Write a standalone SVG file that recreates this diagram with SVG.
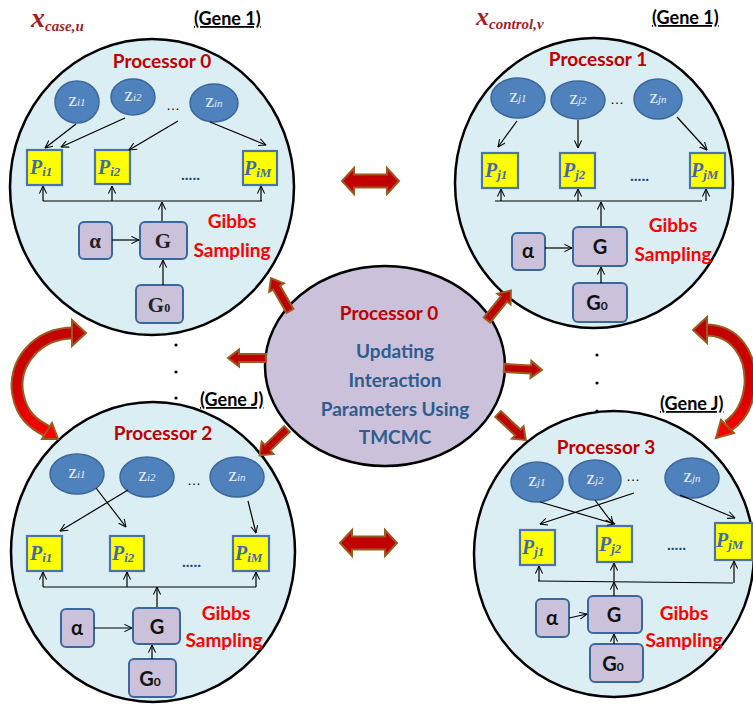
<svg xmlns="http://www.w3.org/2000/svg" width="753" height="708" viewBox="0 0 753 708">
<defs>
<style>
.panel{fill:#DAEEF3;stroke:#000;stroke-width:2.5}
.z{fill:#4F81BD;stroke:#3B679C;stroke-width:1.5}
.zt{font-family:"Liberation Serif",serif;font-size:19px;fill:#E6EEF7;text-anchor:middle}
.zs{font-size:11px;font-style:italic}
.pb{fill:#FFFF00;stroke:#4A74A8;stroke-width:2.2}
.pt{font-family:"Liberation Serif",serif;font-style:italic;font-weight:bold;font-size:20px;fill:#3E6BA8}
.ps{font-size:13px}
.pd{font-family:Lato,"Liberation Sans",sans-serif;font-weight:bold;font-size:16px;fill:#1F497D}
.gb{fill:#CCC1DA;stroke:#3B679C;stroke-width:2}
.gt{font-family:Lato,"Liberation Sans",sans-serif;font-weight:bold;font-size:20px;fill:#111;text-anchor:middle}
.gts{font-family:"Liberation Serif",serif;font-weight:bold;font-size:21px;fill:#222;text-anchor:middle}
.red{font-family:Lato,"Liberation Sans",sans-serif;font-weight:bold;font-size:19px;fill:#FF0000;text-anchor:middle}
.proc{font-family:Lato,"Liberation Sans",sans-serif;font-weight:bold;font-size:19px;fill:#C00000;text-anchor:middle}
.gene{font-family:Lato,"Liberation Sans",sans-serif;font-weight:bold;font-size:18px;fill:#000;text-decoration:underline}
.ctr{font-family:Lato,"Liberation Sans",sans-serif;font-weight:bold;font-size:19px;fill:#2E5C8E;text-anchor:middle}
.xl{font-family:"Liberation Serif",serif;font-style:italic;font-weight:bold;fill:#A31F1F}
.ln{stroke:#000;stroke-width:1.2;fill:none}
.la{stroke:#000;stroke-width:1.2;fill:none;marker-end:url(#v)}
.blk{fill:#C00000;stroke:#9C5B1E;stroke-width:2}
.dot{font-family:"Liberation Sans",sans-serif;font-size:14px;fill:#000}
</style>
<marker id="v" viewBox="0 0 10 10" refX="9.5" refY="5" markerWidth="8" markerHeight="8" orient="auto" markerUnits="userSpaceOnUse">
<path d="M0,0.5 L9.5,5 L0,9.5" fill="none" stroke="#000" stroke-width="1.3"/>
</marker>
<path id="ba" d="M0,-4 L27,-4 L27,-8.5 L38,0 L27,8.5 L27,4 L0,4 Z"/>
<linearGradient id="cg" gradientUnits="userSpaceOnUse" x1="0" y1="320" x2="0" y2="440">
<stop offset="0" stop-color="#C00000"/><stop offset="0.55" stop-color="#D00000"/><stop offset="1" stop-color="#FF0000"/>
</linearGradient>
</defs>
<rect width="753" height="708" fill="#fff"/>

<!-- Panels -->
<g id="panel-p0"><ellipse class="panel" cx="152" cy="187" rx="142" ry="148"/></g>
<g id="panel-p1"><ellipse class="panel" cx="594" cy="183" rx="139" ry="145"/></g>
<g id="panel-p2"><ellipse class="panel" cx="153" cy="552" rx="142" ry="150"/></g>
<g id="panel-p3"><ellipse class="panel" cx="614" cy="554" rx="140" ry="143"/></g>

<!-- Headers -->
<g id="labels">
<text class="xl" x="31" y="27" font-size="28">x<tspan font-size="15" dy="4">case,u</tspan></text>
<text class="xl" x="476" y="25" font-size="26">x<tspan font-size="15" dy="4">control,v</tspan></text>
<text class="gene" x="194" y="25" font-size="20">(Gene 1)</text>
<text class="gene" x="652" y="24" font-size="19">(Gene 1)</text>
<text class="gene" x="200" y="406">(Gene J)</text>
<text class="gene" x="660" y="410">(Gene J)</text>
<text class="proc" x="162" y="68">Processor 0</text>
<text class="proc" x="598" y="66">Processor 1</text>
<text class="proc" x="163" y="440">Processor 2</text>
<text class="proc" x="606" y="454">Processor 3</text>
<circle cx="176" cy="345" r="1.6"/>
<circle cx="176" cy="372" r="1.6"/>
<circle cx="176" cy="398" r="1.6"/>
<circle cx="597" cy="355" r="1.6"/>
<circle cx="597" cy="383" r="1.6"/>
<circle cx="597" cy="411" r="1.6"/>
</g>

<!-- Processor 0 nodes -->
<g id="p0-z1"><ellipse class="z" cx="77" cy="102" rx="22" ry="21"/><text class="zt" x="77" y="106">z<tspan class="zs">i1</tspan></text></g>
<g id="p0-z2"><ellipse class="z" cx="133" cy="97" rx="22" ry="18"/><text class="zt" x="133" y="101">z<tspan class="zs">i2</tspan></text></g>
<g id="p0-zd"><text class="dot" x="166" y="110" font-size="13">…</text></g>
<g id="p0-zn"><ellipse class="z" cx="214" cy="103" rx="24" ry="19"/><text class="zt" x="214" y="107">z<tspan class="zs">in</tspan></text></g>
<g id="p0-P1"><rect class="pb" x="27" y="150" width="35" height="35"/><text class="pt" x="30" y="174">P<tspan class="ps" dy="2">i1</tspan></text></g>
<g id="p0-P2"><rect class="pb" x="95" y="150" width="35" height="34"/><text class="pt" x="98" y="174">P<tspan class="ps" dy="2">i2</tspan></text></g>
<g id="p0-Pd"><text class="pd" x="181" y="180">.....</text></g>
<g id="p0-PM"><rect class="pb" x="243" y="151" width="34" height="34"/><text class="pt" x="244" y="175">P<tspan class="ps" dy="2">iM</tspan></text></g>
<g id="p0-a"><rect class="gb" x="79" y="222" width="33" height="37" rx="5"/><text class="gts" x="95" y="248">α</text></g>
<g id="p0-G"><rect class="gb" x="140" y="222" width="47" height="37" rx="5"/><text class="gts" x="163" y="248">G</text></g>
<g id="p0-G0"><rect class="gb" x="136" y="285" width="47" height="38" rx="5"/><text class="gts" x="159" y="312">G<tspan font-size="12">0</tspan></text></g>
<g id="p0-gibbs"><text class="red" x="232" y="228">Gibbs</text><text class="red" x="232" y="257">Sampling</text></g>

<!-- Processor 1 nodes -->
<g id="p1-z1"><ellipse class="z" cx="518" cy="98" rx="27" ry="20"/><text class="zt" x="518" y="102">z<tspan class="zs">j1</tspan></text></g>
<g id="p1-z2"><ellipse class="z" cx="578" cy="100" rx="27" ry="19"/><text class="zt" x="578" y="104">z<tspan class="zs">j2</tspan></text></g>
<g id="p1-zd"><text class="dot" x="610" y="104" font-size="13">…</text></g>
<g id="p1-zn"><ellipse class="z" cx="658" cy="99" rx="24" ry="20"/><text class="zt" x="658" y="103">z<tspan class="zs">jn</tspan></text></g>
<g id="p1-P1"><rect class="pb" x="482" y="153" width="36" height="35"/><text class="pt" x="485" y="177">P<tspan class="ps" dy="2">j1</tspan></text></g>
<g id="p1-P2"><rect class="pb" x="560" y="153" width="35" height="35"/><text class="pt" x="563" y="177">P<tspan class="ps" dy="2">j2</tspan></text></g>
<g id="p1-Pd"><text class="pd" x="630" y="181">.....</text></g>
<g id="p1-PM"><rect class="pb" x="690" y="153" width="35" height="35"/><text class="pt" x="691" y="177">P<tspan class="ps" dy="2">jM</tspan></text></g>
<g id="p1-a"><rect class="gb" x="512" y="233" width="33" height="37" rx="5"/><text class="gt" x="528" y="258">α</text></g>
<g id="p1-G"><rect class="gb" x="573" y="227" width="54" height="39" rx="5"/><text class="gt" x="600" y="254">G</text></g>
<g id="p1-G0"><rect class="gb" x="573" y="283" width="54" height="39" rx="5"/><text class="gt" x="597" y="310">G<tspan font-size="12">0</tspan></text></g>
<g id="p1-gibbs"><text class="red" x="673" y="232">Gibbs</text><text class="red" x="673" y="261">Sampling</text></g>

<!-- Processor 2 nodes -->
<g id="p2-z1"><ellipse class="z" cx="77" cy="474" rx="27" ry="20"/><text class="zt" x="77" y="478">z<tspan class="zs">i1</tspan></text></g>
<g id="p2-z2"><ellipse class="z" cx="147" cy="477" rx="27" ry="20"/><text class="zt" x="147" y="481">z<tspan class="zs">i2</tspan></text></g>
<g id="p2-zd"><text class="dot" x="187" y="485" font-size="13">…</text></g>
<g id="p2-zn"><ellipse class="z" cx="237" cy="477" rx="27" ry="20"/><text class="zt" x="237" y="481">z<tspan class="zs">in</tspan></text></g>
<g id="p2-P1"><rect class="pb" x="27" y="536" width="35" height="35"/><text class="pt" x="30" y="560">P<tspan class="ps" dy="2">i1</tspan></text></g>
<g id="p2-P2"><rect class="pb" x="110" y="536" width="34" height="35"/><text class="pt" x="112" y="560">P<tspan class="ps" dy="2">i2</tspan></text></g>
<g id="p2-Pd"><text class="pd" x="182" y="567">.....</text></g>
<g id="p2-PM"><rect class="pb" x="233" y="536" width="36" height="35"/><text class="pt" x="235" y="560">P<tspan class="ps" dy="2">iM</tspan></text></g>
<g id="p2-a"><rect class="gb" x="61" y="609" width="33" height="38" rx="5"/><text class="gt" x="77" y="635">α</text></g>
<g id="p2-G"><rect class="gb" x="133" y="608" width="47" height="36" rx="5"/><text class="gt" x="157" y="634">G</text></g>
<g id="p2-G0"><rect class="gb" x="129" y="659" width="47" height="38" rx="5"/><text class="gt" x="150" y="686">G<tspan font-size="12">0</tspan></text></g>
<g id="p2-gibbs"><text class="red" x="226" y="620">Gibbs</text><text class="red" x="224" y="647">Sampling</text></g>

<!-- Processor 3 nodes -->
<g id="p3-z1"><ellipse class="z" cx="537" cy="482" rx="26" ry="20"/><text class="zt" x="537" y="486">z<tspan class="zs">j1</tspan></text></g>
<g id="p3-z2"><ellipse class="z" cx="595" cy="480" rx="26" ry="20"/><text class="zt" x="595" y="484">z<tspan class="zs">j2</tspan></text></g>
<g id="p3-zd"><text class="dot" x="626" y="481" font-size="13">…</text></g>
<g id="p3-zn"><ellipse class="z" cx="692" cy="478" rx="27" ry="20"/><text class="zt" x="692" y="482">z<tspan class="zs">jn</tspan></text></g>
<g id="p3-P1"><rect class="pb" x="520" y="530" width="35" height="35"/><text class="pt" x="522" y="554">P<tspan class="ps" dy="2">j1</tspan></text></g>
<g id="p3-P2"><rect class="pb" x="597" y="526" width="35" height="36" /><text class="pt" x="599" y="551">P<tspan class="ps" dy="2">j2</tspan></text></g>
<g id="p3-Pd"><text class="pd" x="667" y="550">.....</text></g>
<g id="p3-PM"><rect class="pb" x="715" y="523" width="37" height="37"/><text class="pt" x="716" y="547">P<tspan class="ps" dy="2">jM</tspan></text></g>
<g id="p3-a"><rect class="gb" x="536" y="599" width="33" height="38" rx="5"/><text class="gt" x="552" y="625">α</text></g>
<g id="p3-G"><rect class="gb" x="588" y="596" width="54" height="37" rx="5"/><text class="gt" x="614" y="622">G</text></g>
<g id="p3-G0"><rect class="gb" x="590" y="644" width="53" height="38" rx="5"/><text class="gt" x="613" y="671">G<tspan font-size="12">0</tspan></text></g>
<g id="p3-gibbs"><text class="red" x="684" y="620">Gibbs</text><text class="red" x="684" y="647">Sampling</text></g>

<!-- Central node -->
<g id="center">
<ellipse cx="385" cy="366" rx="120" ry="100" fill="#CCC1DA" stroke="#000" stroke-width="2.5"/>
<text class="proc" x="389" y="320">Processor 0</text>
<text class="ctr" x="395" y="358">Updating</text>
<text class="ctr" x="395" y="387">Interaction</text>
<text class="ctr" x="395" y="416">Parameters Using</text>
<text class="ctr" x="395" y="444">TMCMC</text>
</g>

<!-- Connectors -->
<g id="connectors">
<!-- P0 -->
<line class="la" x1="76" y1="124" x2="45" y2="148"/>
<line class="la" x1="125" y1="118" x2="61" y2="147"/>
<line class="la" x1="178" y1="121" x2="129" y2="150"/>
<line class="la" x1="210" y1="122" x2="266" y2="145"/>
<line class="ln" x1="43" y1="201" x2="262" y2="201"/>
<line class="la" x1="43" y1="201" x2="43" y2="186"/>
<line class="la" x1="112" y1="201" x2="112" y2="186"/>
<line class="la" x1="261" y1="201" x2="261" y2="186"/>
<line class="la" x1="162" y1="221" x2="162" y2="202"/>
<line class="la" x1="112" y1="240" x2="139" y2="240"/>
<line class="la" x1="163" y1="285" x2="163" y2="260"/>
<!-- P1 -->
<line class="la" x1="517" y1="121" x2="498" y2="147"/>
<line class="la" x1="578" y1="120" x2="578" y2="148"/>
<line class="la" x1="677" y1="117" x2="707" y2="150"/>
<line class="ln" x1="495" y1="201" x2="702" y2="201"/>
<line class="la" x1="501" y1="201" x2="501" y2="189"/>
<line class="la" x1="578" y1="201" x2="578" y2="189"/>
<line class="la" x1="706" y1="201" x2="706" y2="189"/>
<line class="la" x1="601" y1="226" x2="601" y2="202"/>
<line class="la" x1="545" y1="248" x2="572" y2="248"/>
<line class="la" x1="601" y1="283" x2="601" y2="267"/>
<!-- P2 -->
<line class="la" x1="96" y1="488" x2="126" y2="527"/>
<line class="la" x1="128" y1="490" x2="60" y2="531"/>
<line class="la" x1="248" y1="501" x2="256" y2="533"/>
<line class="ln" x1="43" y1="587" x2="256" y2="587"/>
<line class="la" x1="43" y1="587" x2="43" y2="572"/>
<line class="la" x1="127" y1="587" x2="127" y2="572"/>
<line class="la" x1="256" y1="587" x2="256" y2="572"/>
<line class="la" x1="157" y1="607" x2="157" y2="587"/>
<line class="la" x1="94" y1="628" x2="132" y2="628"/>
<line class="la" x1="152" y1="659" x2="152" y2="645"/>
<!-- P3 -->
<line class="la" x1="540" y1="502" x2="615" y2="524"/>
<line class="la" x1="595" y1="500" x2="613" y2="524"/>
<line class="la" x1="634" y1="493" x2="540" y2="524"/>
<line class="la" x1="680" y1="495" x2="735" y2="518"/>
<line class="ln" x1="538" y1="581" x2="733" y2="583"/>
<line class="la" x1="539" y1="581" x2="539" y2="566"/>
<line class="la" x1="614" y1="581" x2="614" y2="563"/>
<line class="la" x1="734" y1="583" x2="734" y2="561"/>
<line class="la" x1="614" y1="596" x2="614" y2="582"/>
<line class="la" x1="569" y1="618" x2="587" y2="614"/>
<line class="la" x1="614" y1="644" x2="614" y2="634"/>

<!-- Block arrows from center -->
<use href="#ba" class="blk" transform="translate(290,311) rotate(-120)"/>
<use href="#ba" class="blk" transform="translate(487,320) rotate(-51)"/>
<use href="#ba" class="blk" transform="translate(266,358) rotate(180)"/>
<use href="#ba" class="blk" transform="translate(504,368) rotate(3)"/>
<use href="#ba" class="blk" transform="translate(498,414) rotate(43)"/>
<use href="#ba" class="blk" transform="translate(287,429) rotate(136)"/>

<!-- Horizontal double arrows -->
<path class="blk" d="M342,181 L354,168 L354,174.5 L387,174.5 L387,168 L399,181 L387,194 L387,187.5 L354,187.5 L354,194 Z"/>
<path class="blk" d="M340,543 L352,530 L352,536.5 L385,536.5 L385,530 L397,543 L385,556 L385,549.5 L352,549.5 L352,556 Z"/>

<!-- Curved double arrows -->
<path d="M74,333 C35,333 12,365 18,395 C22,415 33,424 47,431" fill="none" stroke="#9C5B1E" stroke-width="13"/>
<path d="M74,333 C35,333 12,365 18,395 C22,415 33,424 47,431" fill="none" stroke="url(#cg)" stroke-width="9"/>
<polygon points="86,333 72,320 72,346" fill="#C00000" stroke="#9C5B1E" stroke-width="2"/>
<polygon points="58,439 42,439 52,423" fill="#FF0000" stroke="#9C5B1E" stroke-width="2"/>
<path d="M706,330 C735,330 752,355 750,385 C748,405 740,418 728,426" fill="none" stroke="#9C5B1E" stroke-width="13"/>
<path d="M706,330 C735,330 752,355 750,385 C748,405 740,418 728,426" fill="none" stroke="url(#cg)" stroke-width="9"/>
<polygon points="693,330 707,317 707,343" fill="#C00000" stroke="#9C5B1E" stroke-width="2"/>
<polygon points="716,438 734,433 721,420" fill="#FF0000" stroke="#9C5B1E" stroke-width="2"/>
</g>
</svg>
